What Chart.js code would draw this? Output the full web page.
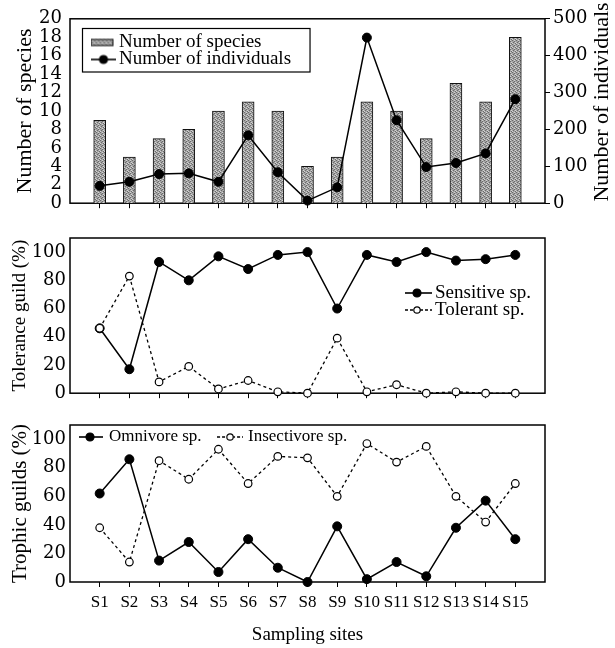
<!DOCTYPE html>
<html>
<head>
<meta charset="utf-8">
<script src="https://cdn.jsdelivr.net/npm/chart.js@4"></script>
<style>
  html, body { margin: 0; padding: 0; background: #fff; }
  #wrap { position: relative; width: 615px; height: 648px; }
  #wrap canvas { position: absolute; left: 0; }
</style>
</head>
<body>
<div id="wrap">
  <canvas id="chartTop" width="615" height="222" style="top:0"></canvas>
  <canvas id="chartMid" width="615" height="186" style="top:222px"></canvas>
  <canvas id="chartBot" width="615" height="246" style="top:402px"></canvas>
</div>
<script>
// --- data ---
const sites = ['S1', 'S2', 'S3', 'S4', 'S5', 'S6', 'S7', 'S8', 'S9', 'S10', 'S11', 'S12', 'S13', 'S14', 'S15'];
const speciesCount = [9, 5, 7, 8, 10, 11, 10, 4, 5, 11, 10, 7, 13, 11, 18];
const individuals = [47, 58, 79, 81, 58, 184, 84, 7, 43, 449, 225, 98, 109, 135, 282];
const sensitive = [46, 17, 93, 80, 97, 88, 98, 100, 60, 98, 93, 100, 94, 95, 98];
const tolerant = [46, 83, 8, 19, 3, 9, 1, 0, 39, 1, 6, 0, 1, 0, 0];
const omnivore = [62, 86, 15, 28, 7, 30, 10, 0, 39, 2, 14, 4, 38, 57, 30];
const insectivore = [38, 14, 85, 72, 93, 69, 88, 87, 60, 97, 84, 95, 60, 42, 69];

Chart.defaults.font.family = 'Liberation Serif';
Chart.defaults.color = '#000';
Chart.defaults.animation = false;
Chart.defaults.responsive = false;

const pts = arr => arr.map((v, i) => ({ x: i + 1, y: v }));

// grey stipple used for the bars
function stipple() {
    const c = document.createElement('canvas');
    c.width = 4; c.height = 4;
    const g = c.getContext('2d');
    g.fillStyle = '#a4a4a4'; g.fillRect(0, 0, 4, 4);
    g.fillStyle = '#6a6a6a';
    [[0, 0], [2, 1], [1, 2], [3, 3]].forEach(p => g.fillRect(p[0], p[1], 1, 1));
    g.fillStyle = '#d2d2d2';
    [[2, 0], [0, 3], [3, 2]].forEach(p => g.fillRect(p[0], p[1], 1, 1));
    return g.createPattern(c, 'repeat');
}
const barFill = stipple();

// little legend pictures (line + marker, bar swatch)
function lineSymbol(w, x0, x1, cx, dashed, filled) {
    const c = document.createElement('canvas');
    c.width = w; c.height = 12;
    const g = c.getContext('2d');
    g.strokeStyle = '#000';
    g.lineWidth = 1.6;
    if (dashed) g.setLineDash([3, 2]);
    g.beginPath(); g.moveTo(x0, 6); g.lineTo(x1, 6); g.stroke();
    g.setLineDash([]);
    g.beginPath(); g.arc(cx, 6, filled ? 4 : 3.2, 0, Math.PI * 2);
    g.fillStyle = filled ? '#000' : '#fff';
    g.fill(); g.lineWidth = 1.2; g.stroke();
    return c;
}
function barSymbol(w, bw, bh) {
    const c = document.createElement('canvas');
    c.width = w; c.height = 12;
    const g = c.getContext('2d');
    const y0 = (12 - bh) / 2;
    g.fillStyle = barFill; g.fillRect(0, y0, bw, bh);
    g.strokeStyle = '#111'; g.lineWidth = 1; g.strokeRect(0.5, y0 + 0.5, bw - 1, bh - 1);
    return c;
}

// box around the plotting area
const frame = {
    id: 'frame',
    beforeDatasetsDraw(chart) {
        const { ctx, chartArea: a } = chart;
        ctx.save();
        ctx.strokeStyle = '#000';
        ctx.lineWidth = 1.5;
        ctx.strokeRect(a.left, a.top, a.right - a.left, a.bottom - a.top);
        ctx.restore();
    }
};

// move the legend inside the plot, optionally with a frame around it
const placeLegend = {
    id: 'placeLegend',
    beforeLayout(chart, args, opts) {
        const lg = chart.legend;
        if (lg && !lg._placed) {
            // no clipping to the legend's own box, the symbols reach left of it
            lg.draw = function () { if (this.options.display) this._draw(); };
            if (opts.flat) {
                const fit = lg.fit;
                lg.fit = function () { fit.call(this); this.height = 0; };
            }
            lg._placed = true;
        }
    },
    afterLayout(chart, args, opts) {
        const lg = chart.legend;
        const pad = lg.options.labels.padding;
        lg.left = opts.x - pad;
        lg.top = opts.y - pad;
        lg.right = chart.width;
        lg.bottom = chart.height;
    },
    afterDraw(chart, args, opts) {
        if (!opts.box) return;
        const boxes = chart.legend.legendHitBoxes;
        const l = Math.min(...boxes.map(b => b.left)) - opts.box.l;
        const r = Math.max(...boxes.map(b => b.left + b.width)) + opts.box.r;
        const t = Math.min(...boxes.map(b => b.top)) - opts.box.t;
        const bt = Math.max(...boxes.map(b => b.top + b.height)) + opts.box.b;
        const ctx = chart.ctx;
        ctx.save();
        ctx.strokeStyle = '#000';
        ctx.lineWidth = 1.2;
        ctx.strokeRect(l, t, r - l, bt - t);
        ctx.restore();
    }
};

// right-hand axis title, read bottom-to-top like the left one
const sideTitle = {
    id: 'sideTitle',
    afterDraw(chart, args, opts) {
        if (!opts.text) return;
        const { ctx, chartArea: a } = chart;
        ctx.save();
        ctx.translate(opts.x, (a.top + a.bottom) / 2 + opts.dy);
        ctx.rotate(-Math.PI / 2);
        ctx.font = opts.size + 'px "Liberation Serif"';
        ctx.fillStyle = '#000';
        ctx.textAlign = 'center';
        ctx.textBaseline = 'middle';
        ctx.fillText(opts.text, 0, 0);
        ctx.restore();
    }
};

function siteAxis(showLabels, height) {
    return {
        type: 'linear',
        min: 0,
        max: sites.length + 1,
        offset: false,
        afterBuildTicks: s => { s.ticks = sites.map((_, i) => ({ value: i + 1 })); },
        afterFit: s => { s.height = height; },
        ticks: {
            display: showLabels, autoSkip: false, maxRotation: 0,
            font: { size: 17 }, padding: 5,
            callback: v => sites[v - 1]
        },
        grid: { drawOnChartArea: false, offset: false, tickLength: 5, color: '#000', lineWidth: 1 },
        border: { display: false },
        title: { display: showLabels, text: 'Sampling sites', font: { size: 19 }, padding: { top: 0, bottom: 2 } }
    };
}

function leftAxis(max, step, title, titleSize, titlePad, labelPad) {
    return {
        position: 'left',
        min: 0,
        max: max,
        afterFit: s => { s.width = 70; },
        ticks: { stepSize: step, includeBounds: false, autoSkip: false,
                 font: { family: 'DejaVu Serif', size: 18 }, padding: labelPad },
        grid: { display: false, drawTicks: false },
        border: { display: false },
        title: { display: true, text: title, font: { size: titleSize }, padding: { top: titlePad, bottom: 0 } }
    };
}

function legendLabels(symbols, size, padding, symbolWidth) {
    return {
        usePointStyle: true,
        pointStyleWidth: symbolWidth,
        font: { size: size },
        padding: padding,
        color: '#000',
        sort: (a, b) => a.datasetIndex - b.datasetIndex,
        generateLabels: chart => Chart.defaults.plugins.legend.labels.generateLabels(chart)
            .map(item => Object.assign(item, { pointStyle: symbols[item.datasetIndex] }))
    };
}

const solidLine = { borderColor: '#000', borderWidth: 1.5, pointRadius: 4.5, pointBackgroundColor: '#000',
    pointBorderColor: '#000', pointBorderWidth: 1, tension: 0, clip: false };
const dottedLine = { borderColor: '#000', borderWidth: 1.3, borderDash: [3, 3], pointRadius: 3.8,
    pointBackgroundColor: '#fff', pointBorderColor: '#000', pointBorderWidth: 1.2, tension: 0, clip: false };

// --- top panel: species (bars) and individuals (line) ---
new Chart(document.getElementById('chartTop'), {
    type: 'bar',
    data: {
        datasets: [
            { type: 'bar', label: 'Number of species', data: pts(speciesCount), yAxisID: 'y',
              backgroundColor: barFill, borderColor: '#111', borderWidth: 1, barThickness: 12, order: 1 },
            Object.assign({ type: 'line', label: 'Number of individuals', data: pts(individuals), yAxisID: 'y1', order: 0 }, solidLine)
        ]
    },
    options: {
        layout: { padding: { top: 16, right: 0, bottom: 0, left: 0 } },
        scales: {
            x: siteAxis(false, 11),
            y: leftAxis(20, 2, 'Number of species', 22, 12, 8),
            y1: {
                position: 'right', min: 0, max: 500,
                afterFit: s => { s.width = 70; },
                ticks: { stepSize: 100, autoSkip: false, font: { family: 'DejaVu Serif', size: 18 }, padding: 3 },
                grid: { drawOnChartArea: false, tickLength: 5, color: '#000' },
                border: { display: false }
            }
        },
        plugins: {
            legend: {
                position: 'chartArea', align: 'start',
                labels: legendLabels([barSymbol(25, 23, 7), lineSymbol(25, 0, 25, 13, false, true)], 19, -2, 13)
            },
            placeLegend: { x: 96.5, y: 33, box: { l: 14, r: 19, t: 4.5, b: 3 } },
            sideTitle: { text: 'Number of individuals', x: 602, dy: -9, size: 22 },
            tooltip: { enabled: false }
        }
    },
    plugins: [frame, placeLegend, sideTitle]
});

// --- middle panel: tolerance guilds ---
new Chart(document.getElementById('chartMid'), {
    type: 'line',
    data: {
        datasets: [
            Object.assign({ label: 'Sensitive sp.', data: pts(sensitive), order: 1 }, solidLine),
            Object.assign({ label: 'Tolerant sp.', data: pts(tolerant), order: 0 }, dottedLine)
        ]
    },
    options: {
        layout: { padding: { top: 16, right: 70, bottom: 0, left: 0 } },
        scales: {
            x: siteAxis(false, 12),
            y: leftAxis(110, 20, 'Tolerance guild (%)', 19, 8.6, 4)
        },
        plugins: {
            legend: {
                position: 'chartArea', align: 'start',
                labels: legendLabels([lineSymbol(27, 0, 27, 12, false, true), lineSymbol(27, 0, 27, 12, true, false)], 19, -2, 14)
            },
            placeLegend: { x: 411.5, y: 61.5 },
            tooltip: { enabled: false }
        }
    },
    plugins: [frame, placeLegend]
});

// --- bottom panel: trophic guilds ---
new Chart(document.getElementById('chartBot'), {
    type: 'line',
    data: {
        datasets: [
            Object.assign({ label: 'Omnivore sp.', data: pts(omnivore), order: 1 }, solidLine),
            Object.assign({ label: 'Insectivore sp.', data: pts(insectivore), order: 0 }, dottedLine)
        ]
    },
    options: {
        layout: { padding: { top: 23, right: 70, bottom: 0, left: 0 } },
        scales: {
            x: siteAxis(true, 66),
            y: leftAxis(110, 20, 'Trophic guilds (%)', 21, 7.4, 4)
        },
        plugins: {
            legend: {
                position: 'top', align: 'start',
                labels: legendLabels([lineSymbol(26, 1, 25, 12, false, true), lineSymbol(26, 0, 26, 13, true, false)], 17, 19, 19)
            },
            placeLegend: { x: 81.5, y: 26.5, flat: true },
            tooltip: { enabled: false }
        }
    },
    plugins: [frame, placeLegend]
});
</script>
</body>
</html>
